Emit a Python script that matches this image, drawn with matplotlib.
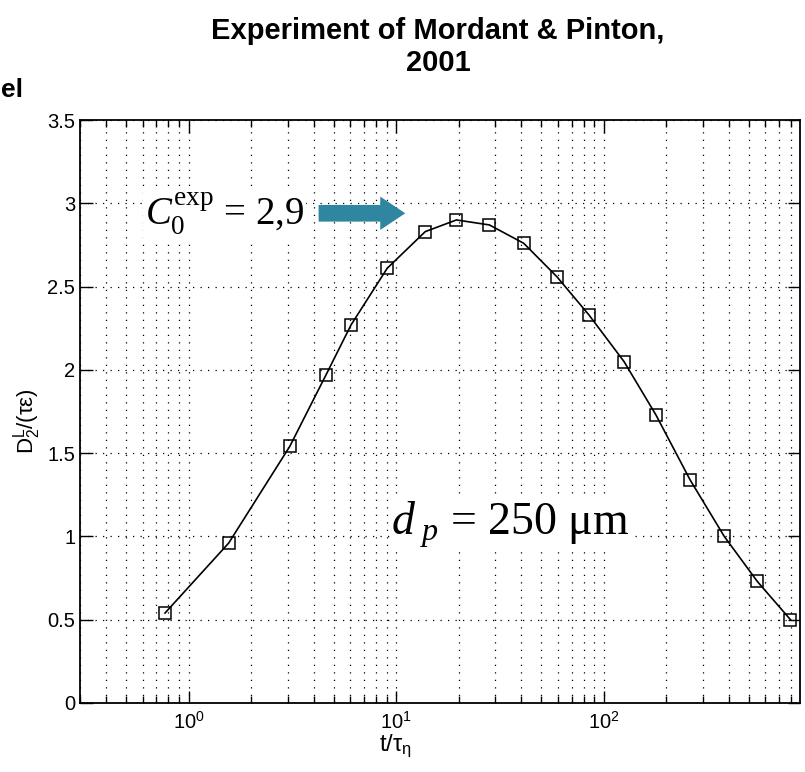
import matplotlib
matplotlib.use("Agg")
import matplotlib.pyplot as plt

# data (t / tau_eta, D2L / (tau eps))
t_over_tau = [0.77, 1.56, 3.07, 4.59, 6.06, 9.05, 13.8, 19.5, 28.1, 41.1,
              59.3, 84.7, 125, 178, 260, 380, 548, 792]
d2_norm = [0.54, 0.96, 1.54, 1.97, 2.27, 2.61, 2.83, 2.90, 2.87, 2.76,
           2.56, 2.33, 2.05, 1.73, 1.34, 1.00, 0.73, 0.50]

y_ticks = [0, 0.5, 1, 1.5, 2, 2.5, 3, 3.5]
y_tick_labels = ["0", "0.5", "1", "1.5", "2", "2.5", "3", "3.5"]

plt.rcParams["mathtext.fontset"] = "custom"
plt.rcParams["mathtext.rm"] = "Liberation Serif"
plt.rcParams["mathtext.it"] = "Liberation Serif:italic"
plt.rcParams["mathtext.default"] = "regular"

sans = ["Liberation Sans", "DejaVu Sans"]
serif = ["Liberation Serif", "DejaVu Serif"]

fig = plt.figure(figsize=(8.05, 7.72), dpi=100)
ax = fig.add_axes([80 / 805, 69 / 772, 720 / 805, 583 / 772])

ax.plot(t_over_tau, d2_norm, "-", color="black", lw=1.2, zorder=3)
ax.plot(t_over_tau, d2_norm, "s", ms=8, mfc="none", mec="black", mew=1.1, zorder=4)

ax.set_xscale("log")
ax.set_xlim(0.3, 880)
ax.set_ylim(0, 3.5)
ax.set_yticks(y_ticks)
ax.set_yticklabels(y_tick_labels)

grid_style = dict(color="black", linestyle=(0, (1, 5)), linewidth=0.9)
ax.grid(True, which="major", **grid_style)
ax.grid(True, which="minor", axis="x", **grid_style)
ax.set_axisbelow(True)

ax.tick_params(which="both", direction="in", top=True, right=True,
               labelsize=14.5, width=1)
ax.tick_params(which="major", length=9)
ax.tick_params(which="minor", length=5)
ax.tick_params(axis="x", pad=6)
for lab in ax.get_xticklabels() + ax.get_yticklabels():
    lab.set_family(sans)
for s in ax.spines.values():
    s.set_linewidth(1.3)

ax.set_xlabel("t/τ$_η$", fontsize=17, family=sans, va="top")
ax.xaxis.set_label_coords(0.4375, -0.05)
ax.set_ylabel("D$_2^L$/(τε)", fontsize=16, family=sans)
ax.yaxis.set_label_coords(-0.052, 0.484)

# annotations
ax.text(3.6, 2.94, r"$\mathit{C}_0^{\rm exp}$ = 2,9", fontsize=28, family=serif,
        ha="right", va="center",
        bbox=dict(facecolor="white", edgecolor="none", pad=1), zorder=5)
ax.annotate("", xy=(11.4, 2.94), xytext=(4.1, 2.94),
            arrowprops=dict(arrowstyle="simple,head_width=1.0,head_length=0.75,tail_width=0.5",
                            mutation_scale=24, color="#2e86a0", lw=0),
            zorder=5)
ax.text(35.5, 1.07, r"$\mathit{d}_{\ \mathit{p}}$ = 250 μm", fontsize=33, family=serif,
        ha="center", va="center",
        bbox=dict(facecolor="white", edgecolor="none", pad=1), zorder=5)

fig.text(438 / 805, 1 - 47 / 772, "Experiment of Mordant & Pinton,\n2001",
         fontsize=21, fontweight="bold", family=sans, ha="center", va="center",
         linespacing=1.2)
fig.text(1 / 805, 1 - 90 / 772, "el", fontsize=19, fontweight="bold", family=sans,
         ha="left", va="center")

fig.savefig("out.png", dpi=100)
